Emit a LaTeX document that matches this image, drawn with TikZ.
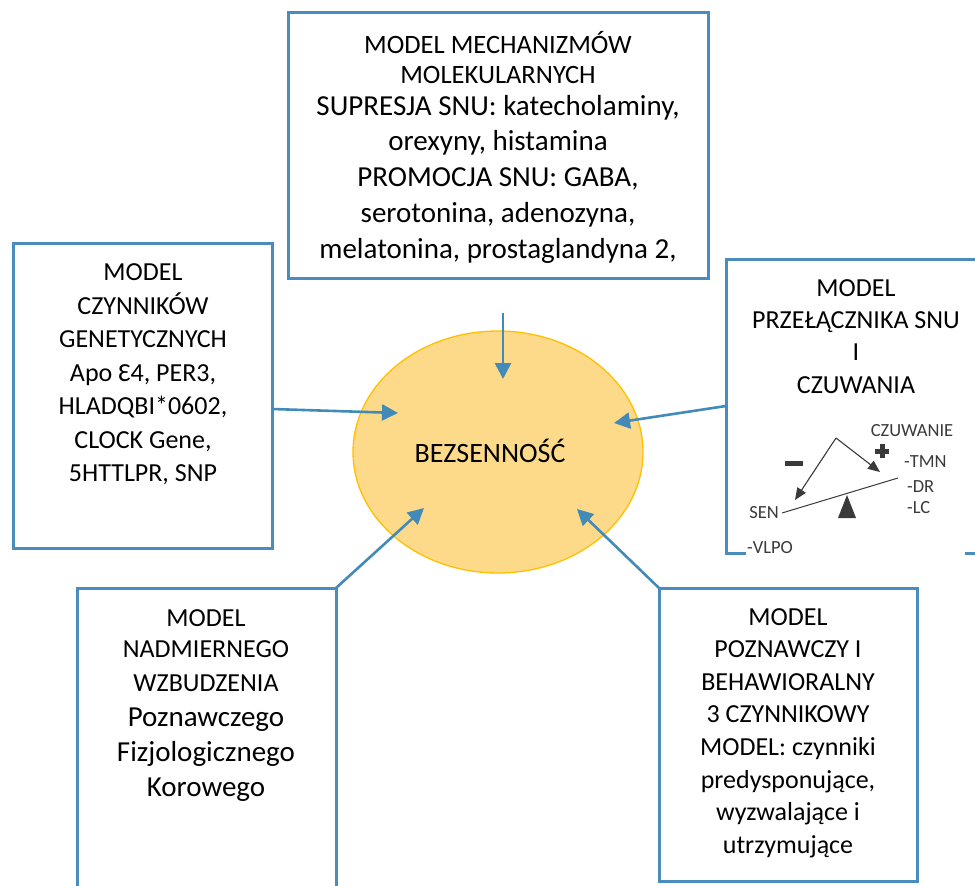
\documentclass[tikz,border=0pt]{standalone}
\usepackage{fontspec}
\setmainfont{Carlito}
\usetikzlibrary{arrows.meta,shapes.geometric,calc}
\definecolor{boxblue}{HTML}{4A8CBD}
\definecolor{arrblue}{HTML}{428AB8}
\definecolor{ellfill}{HTML}{FDD98A}
\definecolor{elldraw}{HTML}{FFC000}
\definecolor{diag}{HTML}{3A3A3A}
\begin{document}
\begin{tikzpicture}[x=1pt,y=-1pt,
 box/.style={draw=boxblue,line width=3pt,rectangle,inner sep=0pt,outer sep=0pt,anchor=north west},
 arr/.style={draw=arrblue,line width=2.6pt,-{Triangle[length=16pt,width=16pt]}},
 txt/.style={align=center,inner sep=0pt,font=\fontsize{26}{33.5}\selectfont},
 dtxt/.style={inner sep=0pt,text=diag,font=\fontsize{18.5}{19}\selectfont},
 darr/.style={draw=diag,line width=1.1pt,-{Triangle[length=12pt,width=10pt]}},
]
\useasboundingbox (0,0) rectangle (975,886);
% central ellipse
\node[ellipse,fill=ellfill,draw=elldraw,line width=1.3pt,minimum width=290pt,minimum height=242pt,inner sep=0pt] (bez) at (498,452) {};
\node[anchor=base,inner sep=0pt,font=\fontsize{28}{30}\selectfont] (bezt) at (490,462) {BEZSENNOŚĆ};
% boxes
\node[box,minimum width=420pt,minimum height=266pt] (mol) at (288,12) {};
\node[box,minimum width=259pt,minimum height=305pt] (gen) at (13,243) {};
\node[box,minimum width=280pt,minimum height=294pt] (swi) at (726,259) {};
\node[box,minimum width=259pt,minimum height=330pt] (hyp) at (77,588) {};
\node[box,minimum width=258pt,minimum height=293pt] (cbt) at (659,588) {};
% box texts
\node[txt,font=\fontsize{29}{36}\selectfont] (molt) at (498,147) {{\fontsize{26.5}{30}\selectfont MODEL MECHANIZMÓW}\\[-6pt]
{\fontsize{26.5}{30}\selectfont MOLEKULARNYCH}\\[-4pt]
SUPRESJA SNU: katecholaminy,\\[-1pt]
orexyny, histamina\\
PROMOCJA SNU: GABA,\\
serotonina, adenozyna,\\
melatonina, prostaglandyna 2,};
\node[txt] (gent) at (143,374.5) {MODEL\\CZYNNIKÓW\\GENETYCZNYCH\\Apo Ɛ4, PER3,\\HLADQBI*0602,\\CLOCK Gene,\\5HTTLPR, SNP};
\node[txt,font=\fontsize{26}{32.3}\selectfont] (swit) at (856,336.5) {MODEL\\PRZEŁĄCZNIKA SNU\\I\\CZUWANIA};
\node[txt,font=\fontsize{29}{35}\selectfont] (hypt) at (206,706) {{\fontsize{26}{30}\selectfont MODEL}\\[-4pt]
{\fontsize{26}{30}\selectfont NADMIERNEGO}\\[-1pt]
{\fontsize{26}{30}\selectfont WZBUDZENIA}\\
Poznawczego\\Fizjologicznego\\Korowego};
\node[txt,font=\fontsize{26}{32.6}\selectfont] (cbtt) at (788,733) {MODEL\\POZNAWCZY I\\BEHAWIORALNY\\3 CZYNNIKOWY\\MODEL: czynniki\\predysponujące,\\wyzwalające i\\utrzymujące};
% arrows
\coordinate (tA) at (503,313);
\coordinate (tB) at (503,379);
\coordinate (lB) at (398,413);
\coordinate (rB) at (614,423);
\coordinate (blB) at (424,508);
\coordinate (brB) at (577,509);
\draw[arr] (tA) -- (tB);
\draw[arr] ([yshift=-13.5pt]gen.east) -- (lB);
\draw[arr] (swi.west) -- (rB);
\draw[arr] (hyp.north east) -- (blB);
\draw[arr] (cbt.north west) -- (brB);
% switch diagram (embedded picture)
\fill[white] (746,418) rectangle (965,562);
\node[dtxt] (czw) at (912,431) {CZUWANIE};
\node[dtxt,anchor=west] (tmn) at (904,462) {-TMN};
\node[dtxt,anchor=west] (dr) at (907,487) {-DR};
\node[dtxt,anchor=west] (lc) at (907,508) {-LC};
\node[dtxt,anchor=east] (sen) at (779,513) {SEN};
\node[dtxt,anchor=west] (vlpo) at (747,548) {-VLPO};
\coordinate (apex) at (836,438);
\coordinate (sentip) at (795,500);
\coordinate (wtip) at (880,472);
\coordinate (beamend) at (898,478);
\draw[darr] (apex) -- (sentip);
\draw[darr] (apex) -- (wtip);
\draw[diag,line width=1pt] ([xshift=3pt]sen.east) -- (beamend);
\fill[diag] (838,518) -- (847,495) -- (856,518) -- cycle;
\fill[diag] (875,448.5) rectangle (889,453.5);
\fill[diag] (879.5,444) rectangle (884.5,458);
\fill[diag] (785,461) rectangle (803,466);
\end{tikzpicture}
\end{document}
